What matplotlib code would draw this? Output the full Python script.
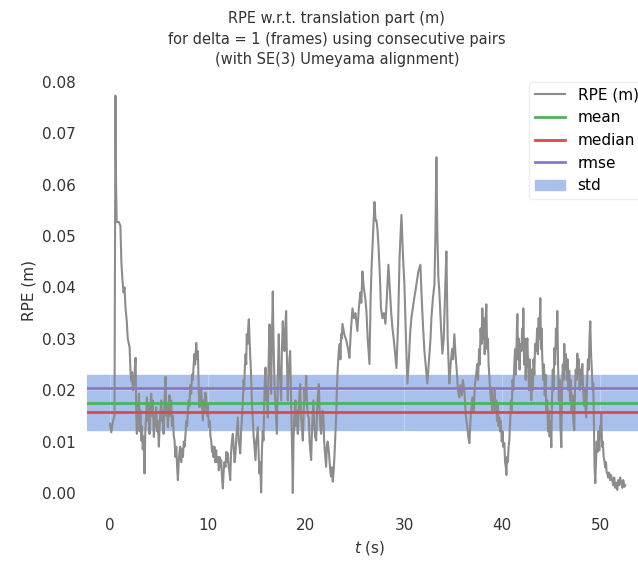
import matplotlib
matplotlib.use("Agg")
import matplotlib.pyplot as plt

# RPE samples, as (time in s, error in m), split by stretch
seg_start = [(0.05, 0.0135), (0.17, 0.0118), (0.35, 0.0140), (0.50, 0.0150), (0.60, 0.0773),
             (0.66, 0.0600), (0.72, 0.0527), (0.95, 0.0527), (1.10, 0.0520), (1.20, 0.0450),
             (1.30, 0.0417), (1.42, 0.0390), (1.52, 0.0400), (1.62, 0.0360), (1.75, 0.0334),
             (1.85, 0.0300)]

seg_early = [(2.04, 0.0283), (2.12, 0.0240), (2.21, 0.0218), (2.30, 0.0235), (2.37, 0.0200),
             (2.44, 0.0228), (2.52, 0.0210), (2.58, 0.0245), (2.65, 0.0263), (2.72, 0.0150),
             (2.78, 0.0115), (2.86, 0.0170), (2.92, 0.0140), (2.99, 0.0193), (3.06, 0.0120),
             (3.14, 0.0160), (3.22, 0.0102), (3.30, 0.0130), (3.38, 0.0085), (3.46, 0.0110),
             (3.56, 0.0038), (3.64, 0.0120), (3.72, 0.0150), (3.80, 0.0186), (3.88, 0.0140),
             (3.96, 0.0170), (4.07, 0.0115), (4.15, 0.0160), (4.24, 0.0193), (4.32, 0.0150),
             (4.40, 0.0180), (4.51, 0.0109), (4.60, 0.0150), (4.67, 0.0130), (4.75, 0.0167),
             (4.84, 0.0120), (4.92, 0.0140), (5.02, 0.0090), (5.10, 0.0130), (5.18, 0.0160),
             (5.26, 0.0180), (5.34, 0.0140), (5.42, 0.0160), (5.50, 0.0115), (5.58, 0.0170),
             (5.64, 0.0200), (5.70, 0.0226), (5.78, 0.0150), (5.86, 0.0170), (5.94, 0.0128),
             (6.02, 0.0160), (6.10, 0.0190), (6.20, 0.0150), (6.28, 0.0180), (6.36, 0.0130),
             (6.45, 0.0150), (6.54, 0.0110), (6.62, 0.0102), (6.70, 0.0070), (6.80, 0.0090),
             (6.88, 0.0050), (6.96, 0.0025), (7.04, 0.0060), (7.12, 0.0080), (7.20, 0.0090),
             (7.30, 0.0060), (7.38, 0.0085), (7.47, 0.0070), (7.56, 0.0100), (7.64, 0.0090),
             (7.74, 0.0115), (7.82, 0.0140), (7.90, 0.0130), (7.98, 0.0160), (8.06, 0.0180),
             (8.14, 0.0170), (8.22, 0.0210), (8.32, 0.0193), (8.40, 0.0230), (8.48, 0.0220),
             (8.55, 0.0244), (8.64, 0.0270), (8.72, 0.0250), (8.83, 0.0292), (8.92, 0.0260),
             (9.00, 0.0276), (9.08, 0.0200), (9.16, 0.0167), (9.24, 0.0190), (9.33, 0.0205),
             (9.42, 0.0170), (9.50, 0.0141), (9.58, 0.0180), (9.66, 0.0160), (9.75, 0.0195),
             (9.84, 0.0186), (9.92, 0.0150), (10.00, 0.0170), (10.12, 0.0128), (10.20, 0.0140),
             (10.28, 0.0110), (10.35, 0.0102), (10.44, 0.0080), (10.52, 0.0090), (10.59, 0.0070),
             (10.68, 0.0090), (10.76, 0.0060), (10.86, 0.0083), (10.94, 0.0060), (11.04, 0.0070),
             (11.13, 0.0044), (11.22, 0.0070), (11.30, 0.0050), (11.37, 0.0064), (11.46, 0.0030),
             (11.54, 0.0009), (11.62, 0.0040), (11.70, 0.0060), (11.81, 0.0051), (11.90, 0.0080),
             (11.98, 0.0060), (12.05, 0.0077), (12.14, 0.0050), (12.22, 0.0040), (12.29, 0.0025),
             (12.38, 0.0080), (12.46, 0.0100), (12.56, 0.0115), (12.64, 0.0090), (12.74, 0.0060),
             (12.83, 0.0077), (12.92, 0.0110), (13.00, 0.0130), (13.07, 0.0147), (13.16, 0.0100),
             (13.24, 0.0090), (13.31, 0.0077), (13.40, 0.0120), (13.50, 0.0150), (13.58, 0.0180)]

seg_middle = [(13.66, 0.0220), (13.72, 0.0200), (13.78, 0.0244), (13.86, 0.0270), (13.92, 0.0250),
              (13.98, 0.0309), (14.06, 0.0290), (14.12, 0.0320), (14.19, 0.0338), (14.26, 0.0300),
              (14.32, 0.0270), (14.39, 0.0244), (14.46, 0.0200), (14.52, 0.0170), (14.60, 0.0141),
              (14.68, 0.0110), (14.76, 0.0090), (14.87, 0.0064), (14.94, 0.0100), (15.02, 0.0110),
              (15.11, 0.0128), (15.18, 0.0080), (15.27, 0.0038), (15.36, 0.0060), (15.44, 0.0001),
              (15.52, 0.0080), (15.60, 0.0120), (15.68, 0.0102), (15.76, 0.0180), (15.82, 0.0220),
              (15.89, 0.0244), (15.96, 0.0180), (16.04, 0.0200), (16.12, 0.0147), (16.20, 0.0250),
              (16.29, 0.0328), (16.36, 0.0260), (16.46, 0.0193), (16.54, 0.0300), (16.63, 0.0392),
              (16.70, 0.0300), (16.80, 0.0212), (16.88, 0.0180), (16.96, 0.0150), (17.04, 0.0115),
              (17.12, 0.0200), (17.18, 0.0260), (17.24, 0.0309), (17.30, 0.0250), (17.38, 0.0220),
              (17.48, 0.0180), (17.56, 0.0280), (17.65, 0.0334), (17.72, 0.0300), (17.82, 0.0276),
              (17.90, 0.0320), (17.99, 0.0354), (18.08, 0.0250), (18.16, 0.0180), (18.24, 0.0230),
              (18.32, 0.0260), (18.40, 0.0276), (18.48, 0.0200), (18.56, 0.0120), (18.62, 0.0060),
              (18.67, 0.0000), (18.74, 0.0100), (18.82, 0.0150), (18.94, 0.0180), (19.02, 0.0130),
              (19.10, 0.0160), (19.18, 0.0115), (19.26, 0.0160), (19.34, 0.0190), (19.42, 0.0212),
              (19.50, 0.0150), (19.60, 0.0130), (19.69, 0.0102), (19.78, 0.0160), (19.86, 0.0200),
              (19.94, 0.0180), (20.03, 0.0228), (20.12, 0.0170), (20.20, 0.0150), (20.30, 0.0147),
              (20.38, 0.0100), (20.46, 0.0080), (20.54, 0.0064), (20.62, 0.0120), (20.70, 0.0150),
              (20.77, 0.0180), (20.86, 0.0130), (20.94, 0.0110), (21.05, 0.0102), (21.14, 0.0160),
              (21.22, 0.0190), (21.32, 0.0212), (21.40, 0.0160), (21.48, 0.0130), (21.55, 0.0115),
              (21.62, 0.0140), (21.70, 0.0160), (21.79, 0.0147), (21.86, 0.0100), (21.94, 0.0080),
              (22.06, 0.0051), (22.14, 0.0090), (22.22, 0.0100), (22.33, 0.0083), (22.42, 0.0060),
              (22.50, 0.0040), (22.57, 0.0032), (22.66, 0.0050), (22.74, 0.0022), (22.82, 0.0040),
              (22.91, 0.0070), (23.00, 0.0110), (23.08, 0.0147), (23.16, 0.0200), (23.24, 0.0240),
              (23.35, 0.0276), (23.45, 0.0290), (23.52, 0.0260), (23.59, 0.0309), (23.66, 0.0300)]

seg_hump = [(23.73, 0.0329), (23.90, 0.0310), (24.13, 0.0296), (24.30, 0.0280), (24.44, 0.0263),
            (24.60, 0.0320), (24.75, 0.0359), (24.90, 0.0340), (25.05, 0.0350), (25.25, 0.0315),
            (25.40, 0.0360), (25.55, 0.0390), (25.65, 0.0370), (25.76, 0.0431), (25.90, 0.0400),
            (26.05, 0.0380), (26.17, 0.0354), (26.30, 0.0300), (26.48, 0.0251), (26.60, 0.0380),
            (26.70, 0.0440), (26.78, 0.0475), (26.90, 0.0530), (26.99, 0.0566), (27.10, 0.0530),
            (27.20, 0.0530), (27.29, 0.0514), (27.40, 0.0480), (27.55, 0.0420), (27.65, 0.0360),
            (27.80, 0.0340), (27.95, 0.0350), (28.11, 0.0329), (28.25, 0.0380), (28.41, 0.0444),
            (28.55, 0.0400), (28.70, 0.0350), (28.82, 0.0321), (28.95, 0.0300), (29.10, 0.0270),
            (29.23, 0.0243), (29.40, 0.0330), (29.55, 0.0460), (29.74, 0.0541), (29.90, 0.0460),
            (30.04, 0.0406), (30.20, 0.0300), (30.35, 0.0213), (30.50, 0.0260), (30.62, 0.0310),
            (30.75, 0.0340), (30.90, 0.0360), (31.05, 0.0380), (31.16, 0.0392), (31.30, 0.0410),
            (31.45, 0.0430), (31.67, 0.0444), (31.80, 0.0380), (31.95, 0.0320), (32.08, 0.0276),
            (32.20, 0.0250), (32.38, 0.0213), (32.55, 0.0260), (32.70, 0.0300), (32.79, 0.0340),
            (32.95, 0.0380), (33.10, 0.0406), (33.20, 0.0500), (33.30, 0.0653), (33.40, 0.0500),
            (33.50, 0.0420), (33.60, 0.0392), (33.75, 0.0330), (33.91, 0.0271), (34.05, 0.0300),
            (34.20, 0.0400), (34.32, 0.0470), (34.45, 0.0300), (34.62, 0.0213), (34.75, 0.0250),
            (34.90, 0.0280), (35.00, 0.0260), (35.13, 0.0309), (35.25, 0.0270), (35.40, 0.0230),
            (35.50, 0.0200), (35.64, 0.0186), (35.75, 0.0210), (35.90, 0.0190), (36.00, 0.0220),
            (36.15, 0.0199), (36.30, 0.0150), (36.45, 0.0130), (36.55, 0.0110), (36.66, 0.0097),
            (36.80, 0.0150), (36.97, 0.0186), (37.10, 0.0160), (37.22, 0.0210), (37.35, 0.0230),
            (37.47, 0.0251)]

seg_late = [(37.55, 0.0220), (37.65, 0.0280), (37.72, 0.0250), (37.80, 0.0320), (37.90, 0.0290),
            (37.98, 0.0359), (38.06, 0.0300), (38.14, 0.0340), (38.22, 0.0270), (38.30, 0.0330),
            (38.39, 0.0367), (38.47, 0.0280), (38.55, 0.0300), (38.62, 0.0250), (38.70, 0.0224),
            (38.78, 0.0200), (38.86, 0.0180), (38.94, 0.0200), (39.00, 0.0155), (39.08, 0.0190),
            (39.16, 0.0170), (39.24, 0.0200), (39.32, 0.0160), (39.40, 0.0180), (39.48, 0.0140),
            (39.56, 0.0170), (39.64, 0.0130), (39.71, 0.0147), (39.80, 0.0120), (39.88, 0.0140),
            (39.96, 0.0100), (40.04, 0.0120), (40.12, 0.0090), (40.22, 0.0097), (40.30, 0.0060),
            (40.38, 0.0050), (40.43, 0.0035), (40.50, 0.0070), (40.58, 0.0060), (40.66, 0.0090),
            (40.73, 0.0102), (40.82, 0.0140), (40.90, 0.0180), (40.98, 0.0160), (41.06, 0.0220),
            (41.14, 0.0200), (41.24, 0.0251), (41.32, 0.0280), (41.40, 0.0230), (41.48, 0.0300),
            (41.55, 0.0348), (41.62, 0.0260), (41.70, 0.0300), (41.78, 0.0240), (41.86, 0.0290),
            (41.96, 0.0276), (42.04, 0.0320), (42.10, 0.0280), (42.16, 0.0359), (42.24, 0.0250),
            (42.32, 0.0300), (42.40, 0.0220), (42.48, 0.0280), (42.57, 0.0301), (42.66, 0.0240),
            (42.74, 0.0200), (42.82, 0.0260), (42.90, 0.0220), (42.97, 0.0180), (43.05, 0.0240),
            (43.12, 0.0200), (43.20, 0.0260), (43.28, 0.0230), (43.36, 0.0290), (43.48, 0.0276),
            (43.56, 0.0320), (43.64, 0.0270), (43.72, 0.0340), (43.80, 0.0300), (43.89, 0.0379),
            (43.96, 0.0280), (44.02, 0.0320), (44.09, 0.0263), (44.18, 0.0220), (44.26, 0.0250),
            (44.34, 0.0190), (44.42, 0.0230), (44.50, 0.0160), (44.60, 0.0180), (44.68, 0.0120),
            (44.76, 0.0160), (44.84, 0.0110), (44.92, 0.0140), (45.01, 0.0089), (45.08, 0.0180),
            (45.16, 0.0240), (45.24, 0.0200), (45.32, 0.0282), (45.40, 0.0250), (45.48, 0.0320),
            (45.55, 0.0280), (45.62, 0.0354), (45.70, 0.0250), (45.78, 0.0180), (45.86, 0.0220),
            (45.94, 0.0130), (46.03, 0.0089), (46.10, 0.0200), (46.18, 0.0250), (46.26, 0.0220),
            (46.33, 0.0290), (46.42, 0.0240), (46.50, 0.0270), (46.58, 0.0220), (46.66, 0.0260),
            (46.74, 0.0200), (46.84, 0.0238), (46.92, 0.0180), (47.00, 0.0220), (47.08, 0.0160),
            (47.16, 0.0190), (47.25, 0.0140), (47.35, 0.0122), (47.42, 0.0200), (47.50, 0.0240),
            (47.58, 0.0220), (47.66, 0.0271), (47.74, 0.0230), (47.82, 0.0260), (47.90, 0.0200),
            (47.98, 0.0240), (48.06, 0.0210), (48.17, 0.0251), (48.26, 0.0200), (48.34, 0.0170),
            (48.42, 0.0200), (48.50, 0.0160), (48.57, 0.0147), (48.66, 0.0220), (48.74, 0.0260),
            (48.82, 0.0240), (48.90, 0.0300), (48.98, 0.0334), (49.06, 0.0270), (49.14, 0.0240),
            (49.22, 0.0200), (49.29, 0.0213), (49.36, 0.0120), (49.42, 0.0050), (49.49, 0.0019)]

seg_end = [(49.56, 0.0060), (49.64, 0.0100), (49.72, 0.0080), (49.80, 0.0120), (49.90, 0.0083),
           (49.98, 0.0130), (50.04, 0.0110), (50.10, 0.0155), (50.18, 0.0090), (50.26, 0.0100),
           (50.34, 0.0070), (50.41, 0.0064), (50.50, 0.0050), (50.58, 0.0060), (50.65, 0.0040),
           (50.71, 0.0039), (50.80, 0.0030), (50.90, 0.0040), (51.00, 0.0025), (51.10, 0.0035),
           (51.22, 0.0025), (51.32, 0.0015), (51.42, 0.0030), (51.52, 0.0010), (51.62, 0.0020),
           (51.73, 0.0006), (51.82, 0.0025), (51.92, 0.0015), (52.02, 0.0030), (52.14, 0.0021),
           (52.24, 0.0010), (52.34, 0.0025), (52.45, 0.0012), (52.55, 0.0015)]

# statistics shown in the reference
rpe_mean = 0.0176
rpe_median = 0.0158
rpe_rmse = 0.0205
rpe_std = 0.0054

samples = seg_start + seg_early + seg_middle + seg_hump + seg_late + seg_end
t = [p[0] for p in samples]
rpe = [p[1] for p in samples]

plt.rcParams['font.family'] = ['DejaVu Sans']
plt.rcParams['font.size'] = 11

fig = plt.figure(figsize=(6.38, 5.65), dpi=100)
ax = fig.add_axes([0.1364, 0.102, 0.886, 0.767])
ax.set_facecolor('white')
for s in ax.spines.values():
    s.set_visible(False)

ax.plot(t, rpe, color='#8c8c8c', lw=1.5, label='RPE (m)', zorder=3)
ax.axhline(rpe_mean, color='#4db35c', lw=2, label='mean', zorder=4)
ax.axhline(rpe_median, color='#e0474c', lw=2, label='median', zorder=4)
ax.axhline(rpe_rmse, color='#8878d0', lw=2, label='rmse', zorder=4)
ax.axhspan(rpe_mean - rpe_std, rpe_mean + rpe_std, color='#a9c0ec', label='std', zorder=1)

ax.grid(True, color='white', lw=0.7, alpha=0.3, zorder=2)
ax.set_axisbelow(False)
ax.tick_params(length=0, pad=8, colors='#333333')
ax.set_xlim(-2.3, 55.3)
ax.set_ylim(-0.0028, 0.0815)
ax.set_yticks([0.0, 0.01, 0.02, 0.03, 0.04, 0.05, 0.06, 0.07, 0.08])
ax.set_xticks([0, 10, 20, 30, 40, 50])
ax.set_xlabel('$t$ (s)', color='#333333')
ax.set_ylabel('RPE (m)', color='#333333')
ax.legend(loc='upper right', frameon=True, framealpha=1, edgecolor='#eeeeee', fontsize=11)

fig.suptitle('RPE w.r.t. translation part (m)\nfor delta = 1 (frames) using consecutive pairs\n'
             '(with SE(3) Umeyama alignment)', x=0.528, y=0.98, fontsize=10.5,
             linespacing=1.45, color='#333333')

fig.savefig('out.png', dpi=100)
